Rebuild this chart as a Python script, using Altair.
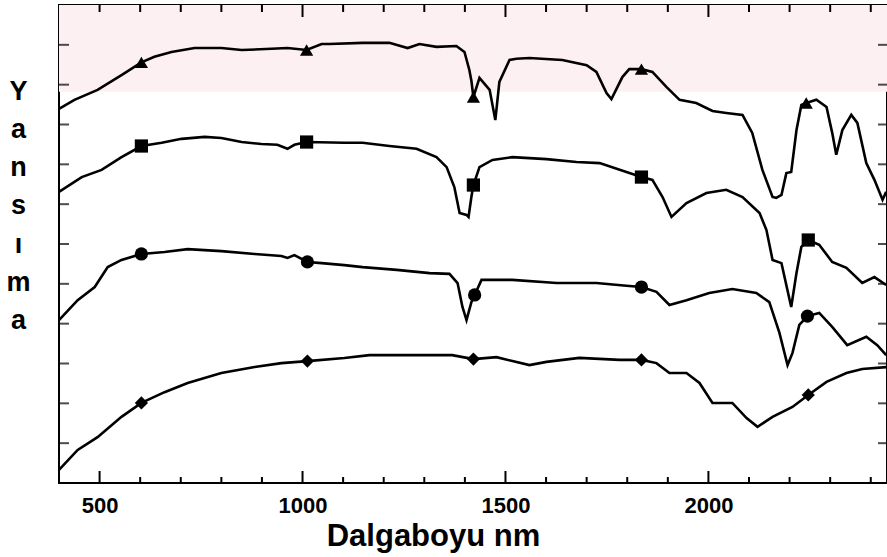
import altair as alt
import pandas as pd

# ---- data (wavelength in nm, reflectance in relative units) ----
tri_nm = [400, 438, 495, 554, 603, 635, 677, 734, 800, 850, 924, 963, 1010, 1047, 1066, 1148, 1214,
          1259, 1288, 1330, 1379, 1399, 1411, 1416, 1421, 1436, 1461, 1475, 1485, 1510, 1527, 1559,
          1640, 1700, 1724, 1749, 1761, 1788, 1805, 1835, 1862, 1897, 1929, 1970, 2010, 2044, 2084,
          2108, 2133, 2158, 2167, 2180, 2192, 2204, 2217, 2229, 2241, 2266, 2291, 2305, 2315, 2330,
          2352, 2367, 2389, 2409, 2429, 2438]
tri_val = [9.39, 9.62, 9.87, 10.24, 10.56, 10.70, 10.82, 10.92, 10.92, 10.87, 10.90, 10.92, 10.87, 11.02,
           11.02, 11.05, 11.05, 10.92, 11.02, 10.95, 10.97, 10.82, 10.37, 10.10, 9.69, 10.17, 9.87, 9.11,
           10.07, 10.62, 10.65, 10.67, 10.62, 10.49, 10.32, 9.79, 9.64, 10.19, 10.39, 10.39, 10.32, 9.94,
           9.62, 9.54, 9.34, 9.29, 9.24, 8.79, 7.86, 7.18, 7.16, 7.23, 7.78, 7.81, 8.86, 9.49, 9.54, 9.62,
           9.44, 8.79, 8.24, 8.86, 9.24, 9.04, 8.03, 7.61, 7.11, 7.31]

sq_nm = [400, 456, 505, 554, 603, 653, 702, 759, 800, 850, 899, 938, 963, 980, 1010, 1103, 1148, 1214,
         1281, 1330, 1355, 1374, 1387, 1404, 1409, 1416, 1421, 1436, 1468, 1517, 1601, 1675, 1732, 1798,
         1835, 1862, 1887, 1909, 1946, 1995, 2044, 2084, 2126, 2143, 2158, 2180, 2204, 2217, 2229, 2246,
         2273, 2305, 2340, 2379, 2409, 2438]
sq_val = [7.31, 7.68, 7.86, 8.18, 8.46, 8.54, 8.64, 8.69, 8.66, 8.56, 8.51, 8.49, 8.39, 8.49, 8.56, 8.54,
          8.54, 8.46, 8.39, 8.18, 7.93, 7.43, 6.78, 6.73, 6.68, 7.18, 7.48, 7.93, 8.11, 8.18, 8.13, 8.06,
          8.03, 7.81, 7.68, 7.61, 7.18, 6.68, 7.03, 7.28, 7.36, 7.18, 6.78, 6.35, 5.60, 5.52, 4.42, 5.27,
          5.93, 6.10, 5.98, 5.55, 5.40, 5.02, 5.17, 4.97]

cir_nm = [400, 446, 488, 520, 554, 603, 660, 717, 800, 882, 948, 963, 980, 1012, 1047, 1103, 1148, 1232,
          1313, 1362, 1382, 1394, 1404, 1416, 1424, 1441, 1517, 1626, 1724, 1798, 1835, 1872, 1904, 1946,
          2002, 2059, 2118, 2150, 2175, 2195, 2207, 2224, 2244, 2273, 2305, 2342, 2389, 2416, 2438]
cir_val = [4.09, 4.59, 4.92, 5.42, 5.60, 5.75, 5.80, 5.87, 5.82, 5.75, 5.70, 5.65, 5.72, 5.55, 5.52, 5.47,
           5.42, 5.35, 5.27, 5.25, 5.02, 4.42, 4.09, 4.54, 4.72, 5.10, 5.10, 5.02, 5.02, 4.95, 4.92, 4.80,
           4.47, 4.59, 4.77, 4.87, 4.77, 4.54, 3.77, 2.96, 3.26, 3.97, 4.19, 4.27, 3.92, 3.46, 3.67, 3.46,
           3.21]

dia_nm = [400, 446, 495, 554, 603, 660, 717, 800, 882, 948, 1012, 1103, 1165, 1271, 1369, 1421, 1478,
          1517, 1559, 1601, 1682, 1781, 1835, 1872, 1904, 1946, 1978, 2010, 2059, 2094, 2121, 2158, 2207,
          2246, 2291, 2340, 2379, 2438]
dia_val = [0.33, 0.83, 1.15, 1.66, 2.01, 2.28, 2.51, 2.76, 2.91, 3.01, 3.06, 3.14, 3.21, 3.21, 3.21, 3.11,
           3.16, 3.06, 2.96, 3.04, 3.14, 3.09, 3.09, 3.01, 2.76, 2.76, 2.51, 2.01, 2.01, 1.63, 1.41, 1.66,
           1.91, 2.21, 2.54, 2.76, 2.86, 2.91]

# marker positions on each curve
tri_mk_nm = [603, 1010, 1421, 1835, 2241]
tri_mk_val = [10.56, 10.87, 9.69, 10.39, 9.54]
sq_mk_nm = [603, 1010, 1421, 1835, 2246]
sq_mk_val = [8.46, 8.56, 7.48, 7.68, 6.10]
cir_mk_nm = [603, 1012, 1424, 1835, 2244]
cir_mk_val = [5.75, 5.55, 4.72, 4.92, 4.19]
dia_mk_nm = [603, 1012, 1421, 1835, 2246]
dia_mk_val = [2.01, 3.06, 3.11, 3.09, 2.21]

series_names = ["A", "B", "C", "D"]
series_shapes = ["triangle-up", "square", "circle", "diamond"]

x_labels = [500, 1000, 1500, 2000]
x_minor = [600, 700, 800, 900, 1100, 1200, 1300, 1400, 1600, 1700, 1800, 1900,
           2100, 2200, 2300, 2400]
x_top_major = [1000, 1500, 2000]
x_top_minor = [500, 600, 700, 800, 900, 1100, 1200, 1300, 1400, 1600, 1700, 1800, 1900,
               2100, 2200, 2300, 2400]
y_ticks = [1, 2, 3, 4, 5, 6, 7, 8, 9, 10, 11]
x_domain = [400, 2440]
y_domain = [0, 12]
band = {"x0": [400], "x1": [2440], "y0": [9.82], "y1": [12]}

PLOT_W, PLOT_H = 828, 478

# ---- tables ----
rows = []
for name, xs_, ys_ in zip(series_names, [tri_nm, sq_nm, cir_nm, dia_nm],
                          [tri_val, sq_val, cir_val, dia_val]):
    for a, b in zip(xs_, ys_):
        rows.append({"series": name, "nm": a, "val": b, "w": "curve"})

# inward x-axis ticks as short segments, drawn by the same line mark (pixel length -> data units)
per_px = (y_domain[1] - y_domain[0]) / PLOT_H
for vals, base, length_px, direction in [(x_labels, y_domain[0], 12, 1), (x_minor, y_domain[0], 6, 1),
                                          (x_top_major, y_domain[1], 12, -1),
                                          (x_top_minor, y_domain[1], 7, -1)]:
    for v in vals:
        tid = f"tick-{base}-{length_px}-{v}"
        rows.append({"series": tid, "nm": v, "val": base, "w": "tick"})
        rows.append({"series": tid, "nm": v, "val": base + direction * length_px * per_px, "w": "tick"})
lines_df = pd.DataFrame(rows)

mrows = []
for name, xs_, ys_ in zip(series_names, [tri_mk_nm, sq_mk_nm, cir_mk_nm, dia_mk_nm],
                          [tri_mk_val, sq_mk_val, cir_mk_val, dia_mk_val]):
    for a, b in zip(xs_, ys_):
        mrows.append({"series": name, "nm": a, "val": b})
mk_df = pd.DataFrame(mrows)
band_df = pd.DataFrame(band)

FONT = "Liberation Sans"
xsc = alt.Scale(domain=x_domain, nice=False, zero=False)
ysc = alt.Scale(domain=y_domain, nice=False, zero=False)


def y_tick_marks(values, at, length, shift):
    df = pd.DataFrame({"ty": values})
    return alt.Chart(df).mark_tick(orient="horizontal", size=length, thickness=2, color="black",
                                   xOffset=shift).encode(
        y=alt.Y("ty:Q", scale=ysc),
        x=alt.X(datum=at, scale=xsc),
    )


bg = alt.Chart(band_df).mark_rect(color="#fdf0f2").encode(
    x=alt.X("x0:Q", scale=xsc),
    x2="x1:Q",
    y=alt.Y("y0:Q", scale=ysc),
    y2="y1:Q",
)

lines = alt.Chart(lines_df).mark_line(color="black", strokeCap="butt").encode(
    x=alt.X("nm:Q", scale=xsc, axis=alt.Axis(
        orient="bottom", values=x_labels, format="d", ticks=False, tickSize=0, domain=False,
        grid=False, labels=True, labelFont=FONT, labelFontSize=22, labelFontWeight="bold",
        labelColor="black", labelPadding=12, labelFlush=False, zindex=0,
        title="Dalgaboyu nm", titleFont=FONT, titleFontSize=31, titleFontWeight="bold",
        titleColor="black", titleX=374, titleY=62, titleAlign="center",
        titleBaseline="alphabetic")),
    y=alt.Y("val:Q", scale=ysc, axis=alt.Axis(
        orient="left", ticks=False, labels=False, domain=False, grid=False, zindex=0,
        title=list("Yansıma"), titleAngle=0, titleX=-41, titleY=73, titleAlign="center",
        titleBaseline="top", titleFont=FONT, titleFontSize=27, titleFontWeight="bold",
        titleLineHeight=38.3, titleColor="black")),
    detail="series:N",
    strokeWidth=alt.StrokeWidth("w:N", scale=alt.Scale(domain=["curve", "tick"], range=[2.6, 2]),
                                legend=None),
)

markers = alt.Chart(mk_df).mark_point(filled=True, color="black", opacity=1, size=175).encode(
    x=alt.X("nm:Q", scale=xsc),
    y=alt.Y("val:Q", scale=ysc),
    shape=alt.Shape("series:N", scale=alt.Scale(domain=series_names, range=series_shapes),
                    legend=None),
)

chart = alt.layer(
    bg,
    y_tick_marks(y_ticks, 400, 10, 5),
    y_tick_marks(y_ticks, 2440, 9, -4.5),
    lines, markers,
).properties(
    width=PLOT_W, height=PLOT_H, autosize="none",
    padding={"left": 59, "top": 5, "right": 0, "bottom": 74},
    background="white",
).configure_view(stroke="black", strokeWidth=2)

chart.save("out.html", embed_options={"renderer": "svg", "actions": False})
